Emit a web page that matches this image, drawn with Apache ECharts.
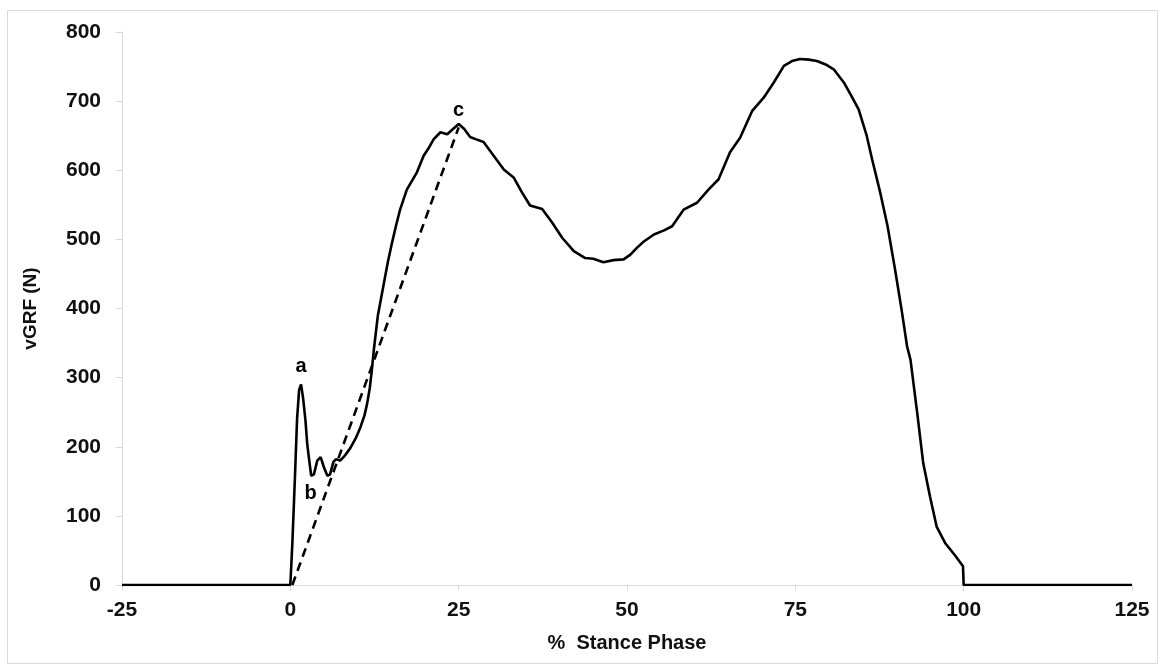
<!DOCTYPE html>
<html>
<head>
<meta charset="utf-8">
<script src="https://cdn.jsdelivr.net/npm/echarts@6/dist/echarts.min.js"></script>
<style>
html,body{margin:0;padding:0;background:#fff;}
#chart{width:1165px;height:671px;}
</style>
</head>
<body>
<div id="chart"></div>
<script>
// % stance phase (x) and vertical ground reaction force in N (y)
const stancePct = [-25,0,0.3,0.7,1.0,1.3,1.6,1.9,2.24,2.5,2.73,3.1,3.5,4.0,4.5,5.0,5.5,5.9,6.4,6.8,7.4,8.0,8.9,9.7,10.4,11.0,11.4,11.8,12.1,12.4,13.0,13.9,14.5,15.1,15.7,16.3,17.3,18.8,19.8,20.6,21.3,22.3,23.3,24.2,25.0,25.8,26.7,27.5,28.7,30.2,31.7,33.2,34.4,35.6,37.4,38.9,40.4,42.1,43.8,45.0,46.5,48.0,49.5,50.5,51.5,52.5,54.0,55.5,56.7,58.4,60.4,62.1,63.6,65.3,66.8,68.6,70.3,71.8,73.3,74.5,75.7,77.0,78.2,79.5,80.7,82.2,83.3,84.4,85.6,86.4,87.6,88.7,89.8,90.8,91.6,92.1,93.1,94.0,95.0,96.0,97.3,98.7,99.9,100,125];
const vgrf = [0,0,60,160,240,282,290,270,239,205,186,158,160,180,185,170,158,160,178,182,180,186,198,212,228,245,262,285,310,340,390,437,468,495,520,543,572,597,621,633,645,655,652,660,667,660,648,645,641,621,601,589,568,549,544,524,502,483,473,472,467,470,471,478,488,497,507,513,519,543,553,572,587,626,647,686,705,727,751,758,761,760,758,753,746,727,708,688,650,616,568,519,457,397,345,326,249,176,128,84,60,43,27,0,0];
// dashed loading-rate line from initial contact to point c
const slopeX = [0.3, 25];
const slopeY = [0, 662];
// annotation labels
const annotNames = ['a','b','c'];
const annotX = [1.6, 3.0, 25.0];
const annotY = [316, 133, 686];
const xTicks = {min:-25, max:125, interval:25};
const yTicks = {min:0, max:800, interval:100};

const chart = echarts.init(document.getElementById('chart'), null, {renderer:'canvas'});
const font = 'Liberation Sans, Arial, sans-serif';
const option = {
  animation:false,
  backgroundColor:'#fff',
  graphic:[{type:'rect', shape:{x:7.5,y:10.5,width:1150,height:653}, style:{fill:null, stroke:'#d9d9d9', lineWidth:1}, silent:true}],
  grid:{left:122, right:33, top:32, bottom:86, containLabel:false},
  xAxis:{
    type:'value', min:xTicks.min, max:xTicks.max, interval:xTicks.interval,
    name:'%  Stance Phase', nameLocation:'middle', nameGap:48,
    nameTextStyle:{fontFamily:font, fontSize:20, fontWeight:'bold', color:'#111'},
    axisLine:{show:true, onZero:false, lineStyle:{color:'#d9d9d9', width:1}},
    axisTick:{show:true, inside:false, length:6, lineStyle:{color:'#d9d9d9'}},
    axisLabel:{fontFamily:font, fontSize:21, fontWeight:'bold', color:'#111', margin:15},
    splitLine:{show:false}
  },
  yAxis:{
    type:'value', min:yTicks.min, max:yTicks.max, interval:yTicks.interval,
    name:'vGRF (N)', nameLocation:'middle', nameGap:82, nameRotate:90,
    nameTextStyle:{fontFamily:font, fontSize:19, fontWeight:'bold', color:'#111'},
    axisLine:{show:true, onZero:false, lineStyle:{color:'#d9d9d9', width:1}},
    axisTick:{show:true, inside:false, length:6, lineStyle:{color:'#d9d9d9'}},
    axisLabel:{fontFamily:font, fontSize:21, fontWeight:'bold', color:'#111', margin:21},
    splitLine:{show:false}
  },
  series:[
    {
      type:'line', name:'vGRF', showSymbol:false, symbol:'none', smooth:false,
      lineStyle:{color:'#000', width:2.6},
      data: stancePct.map((x,i)=>[x, vgrf[i]]),
      z:3
    },
    {
      type:'line', name:'slope', showSymbol:false, symbol:'none',
      lineStyle:{color:'#000', width:2.6, type:[9,6]},
      data: slopeX.map((x,i)=>[x, slopeY[i]]),
      z:2
    },
    {
      type:'scatter', name:'labels', symbolSize:1,
      itemStyle:{opacity:1, color:'rgba(0,0,0,0)'},
      data: annotNames.map((n,i)=>({name:n, value:[annotX[i], annotY[i]]})),
      label:{show:true, position:'inside', formatter:'{b}', fontFamily:font, fontSize:20, fontWeight:'bold', color:'#000', opacity:1},
      z:4
    }
  ]
};
chart.setOption(option);
</script>
</body>
</html>
